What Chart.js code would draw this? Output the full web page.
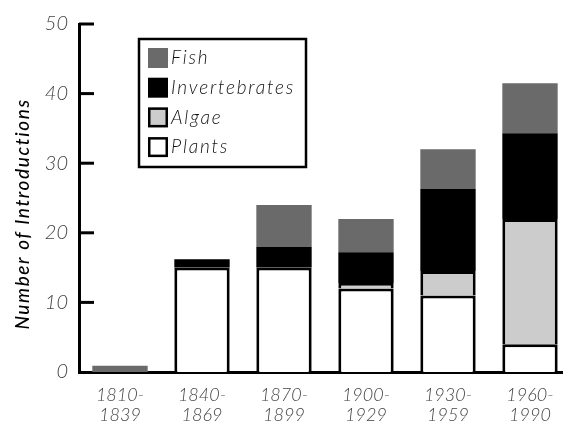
<!DOCTYPE html>
<html>
<head>
<meta charset="utf-8">
<script src="https://cdn.jsdelivr.net/npm/chart.js@4/dist/chart.umd.min.js"></script>
<style>
  html, body { margin: 0; padding: 0; background: #fff; overflow: hidden; }
  #wrap { width: 580px; height: 424px; }
</style>
</head>
<body>
<div id="wrap"><canvas id="myChart"></canvas></div>
<script>
const periods = [['1810-', '1839'], ['1840-', '1869'], ['1870-', '1899'], ['1900-', '1929'], ['1930-', '1959'], ['1960-', '1990']]
const plants = [null, 15, 15, 12, 11, 4]
const algae = [null, null, null, 0.8, 3.5, 18]
const invertebrates = [null, 1.2, 3, 4.4, 11.8, 12.3]
const fish = [0.9, null, 6, 4.8, 5.7, 7.2]
const yTicks = [0, 10, 20, 30, 40, 50]
const yTitle = 'Number of Introductions'

const FONT = 'Lato, "Open Sans", sans-serif'

// ticks on the y axis point into the plot, and the axis title
const yExtras = {
  id: 'yExtras',
  afterDraw(chart) {
    const ctx = chart.ctx
    const y = chart.scales.y
    ctx.save()
    ctx.strokeStyle = '#000'
    ctx.lineWidth = 3
    yTicks.forEach(v => {
      if (v === 0) return
      const py = y.getPixelForValue(v)
      ctx.beginPath()
      ctx.moveTo(y.right, py)
      ctx.lineTo(y.right + 15, py)
      ctx.stroke()
    })
    ctx.translate(23, 214)
    ctx.rotate(-Math.PI / 2)
    ctx.font = 'italic 500 19px ' + FONT
    ctx.letterSpacing = '1.6px'
    ctx.fillStyle = '#000'
    ctx.textAlign = 'center'
    ctx.textBaseline = 'middle'
    ctx.fillText(yTitle, 0, 0)
    ctx.restore()
  }
}

// boxed legend inside the plot
const boxLegend = {
  id: 'boxLegend',
  afterDraw(chart) {
    const ctx = chart.ctx
    const x0 = 139, y0 = 39, w = 167, h = 128
    ctx.save()
    ctx.fillStyle = '#fff'
    ctx.fillRect(x0, y0, w, h)
    ctx.strokeStyle = '#000'
    ctx.lineWidth = 2.5
    ctx.strokeRect(x0, y0, w, h)
    const items = chart.data.datasets.slice().reverse()
    ctx.font = 'italic 300 19px ' + FONT
    ctx.letterSpacing = '1.8px'
    ctx.textBaseline = 'middle'
    items.forEach((ds, i) => {
      const sy = 48 + i * 29.7
      ctx.fillStyle = ds.backgroundColor
      ctx.fillRect(148, sy, 20, 20)
      if (ds.label === 'Plants' || ds.label === 'Algae') {
        ctx.strokeStyle = '#000'
        ctx.lineWidth = 2.5
        ctx.strokeRect(149.25, sy + 1.25, 17.5, 17.5)
      }
      ctx.fillStyle = '#111'
      ctx.fillText(ds.label, 171, sy + 10)
    })
    ctx.restore()
  }
}

const boxed = { left: 3, right: 3, top: 3, bottom: 0 }

new Chart(document.getElementById('myChart'), {
  type: 'bar',
  data: {
    labels: periods,
    datasets: [
      { label: 'Plants', data: plants, backgroundColor: '#ffffff', borderColor: '#000', borderWidth: boxed, borderSkipped: false },
      { label: 'Algae', data: algae, backgroundColor: '#cccccc', borderColor: '#000', borderWidth: boxed, borderSkipped: false },
      { label: 'Invertebrates', data: invertebrates, backgroundColor: '#000000', borderWidth: 0 },
      { label: 'Fish', data: fish, backgroundColor: '#6a6a6a', borderWidth: 0 }
    ]
  },
  options: {
    responsive: true,
    maintainAspectRatio: false,
    animation: false,
    layout: { padding: { top: 24, right: 9, left: 0, bottom: 0 } },
    datasets: { bar: { categoryPercentage: 1, barPercentage: 0.675 } },
    plugins: { legend: { display: false }, tooltip: { enabled: false } },
    scales: {
      x: {
        stacked: true,
        grid: { display: false, drawTicks: false },
        border: { color: '#000', width: 3 },
        ticks: { color: '#444', padding: 13, font: { family: FONT, size: 18, style: 'italic', weight: 300, lineHeight: 1.1 } },
        afterFit(s) { s.height = 52 }
      },
      y: {
        stacked: true,
        min: 0,
        max: 50,
        afterBuildTicks(s) { s.ticks = yTicks.map(v => ({ value: v })) },
        grid: { display: false, drawTicks: false },
        border: { color: '#000', width: 3 },
        ticks: { color: '#444', padding: 11, font: { family: FONT, size: 20, style: 'italic', weight: 300 } },
        afterFit(s) { s.width = 79 }
      }
    }
  },
  plugins: [yExtras, boxLegend]
})
</script>
</body>
</html>
